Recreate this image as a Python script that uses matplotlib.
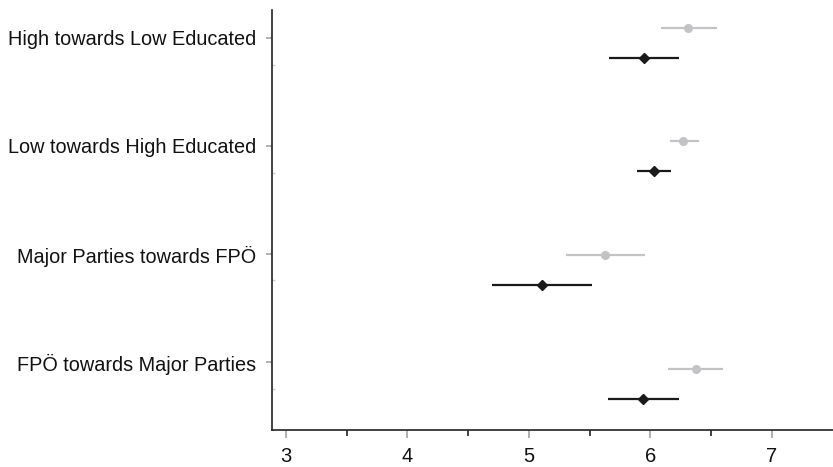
import matplotlib
matplotlib.use("Agg")
import matplotlib.pyplot as plt
import numpy as np

categories = ["High towards Low Educated", "Low towards High Educated",
              "Major Parties towards FPÖ", "FPÖ towards Major Parties"]
grey_est = [6.31, 6.27, 5.63, 6.38]
grey_lo = [6.09, 6.16, 5.31, 6.15]
grey_hi = [6.55, 6.40, 5.96, 6.60]
black_est = [5.95, 6.03, 5.11, 5.94]
black_lo = [5.66, 5.89, 4.70, 5.65]
black_hi = [6.24, 6.17, 5.52, 6.24]
xticks = [3, 4, 5, 6, 7]

plt.rcParams['font.family'] = ['Liberation Sans', 'DejaVu Sans']

W, H = 833, 467
fig = plt.figure(figsize=(W / 100, H / 100), dpi=100)
x_left, x_right = 2.885, 7.6
unit = 121.42
ax_w_px = (x_right - x_left) * unit
ax = fig.add_axes([272 / W, (H - 430) / H, ax_w_px / W, 420 / H])

# y in units of category spacing (113.8 px), category 0 at top
pos = np.arange(len(categories))
off = 0.132
grey_y = pos - off
black_y = pos + off

ge = np.array(grey_est); be = np.array(black_est)
ax.errorbar(ge, grey_y, xerr=[ge - np.array(grey_lo), np.array(grey_hi) - ge],
            fmt='o', color='#c3c3c5', ecolor='#c3c3c5', elinewidth=1.6,
            markersize=5.5, capsize=0, zorder=3)
ax.errorbar(be, black_y, xerr=[be - np.array(black_lo), np.array(black_hi) - be],
            fmt='D', color='#1a1a1a', ecolor='#1a1a1a', elinewidth=1.6,
            markersize=5, capsize=0, zorder=4)

ax.set_xlim(x_left, x_right)
top = -0.286
ax.set_ylim(top + 420 / 113.8, top)

label_pos = [-0.042, 0.907, 1.861, 2.808]
minor_pos = [0.198, 1.144, 2.087, 3.045]
ax.set_yticks(label_pos)
ax.set_yticklabels(categories)
ax.set_yticks(minor_pos, minor=True)
ax.set_xticks(xticks)
ax.set_xticklabels([str(v) for v in xticks])
ax.set_xticks([3.5, 4.5, 5.5, 6.5], minor=True)

for s in ['top', 'right']:
    ax.spines[s].set_visible(False)
for s in ['left', 'bottom']:
    ax.spines[s].set_color('#222222')
    ax.spines[s].set_linewidth(1.2)

ax.tick_params(axis='x', which='major', length=6, width=1.1, color='#9a9a9a',
               labelsize=14.5, pad=6.5, labelcolor='#111111')
ax.tick_params(axis='x', which='minor', length=4, width=1.2, color='#222222')
ax.tick_params(axis='y', which='major', length=4, width=1.1, color='#9a9a9a',
               labelsize=14.3, pad=7.5, labelcolor='#111111')
ax.tick_params(axis='y', which='minor', length=2, width=1.0, color='#cccccc',
               direction='in')

fig.savefig("out.png", dpi=100)
